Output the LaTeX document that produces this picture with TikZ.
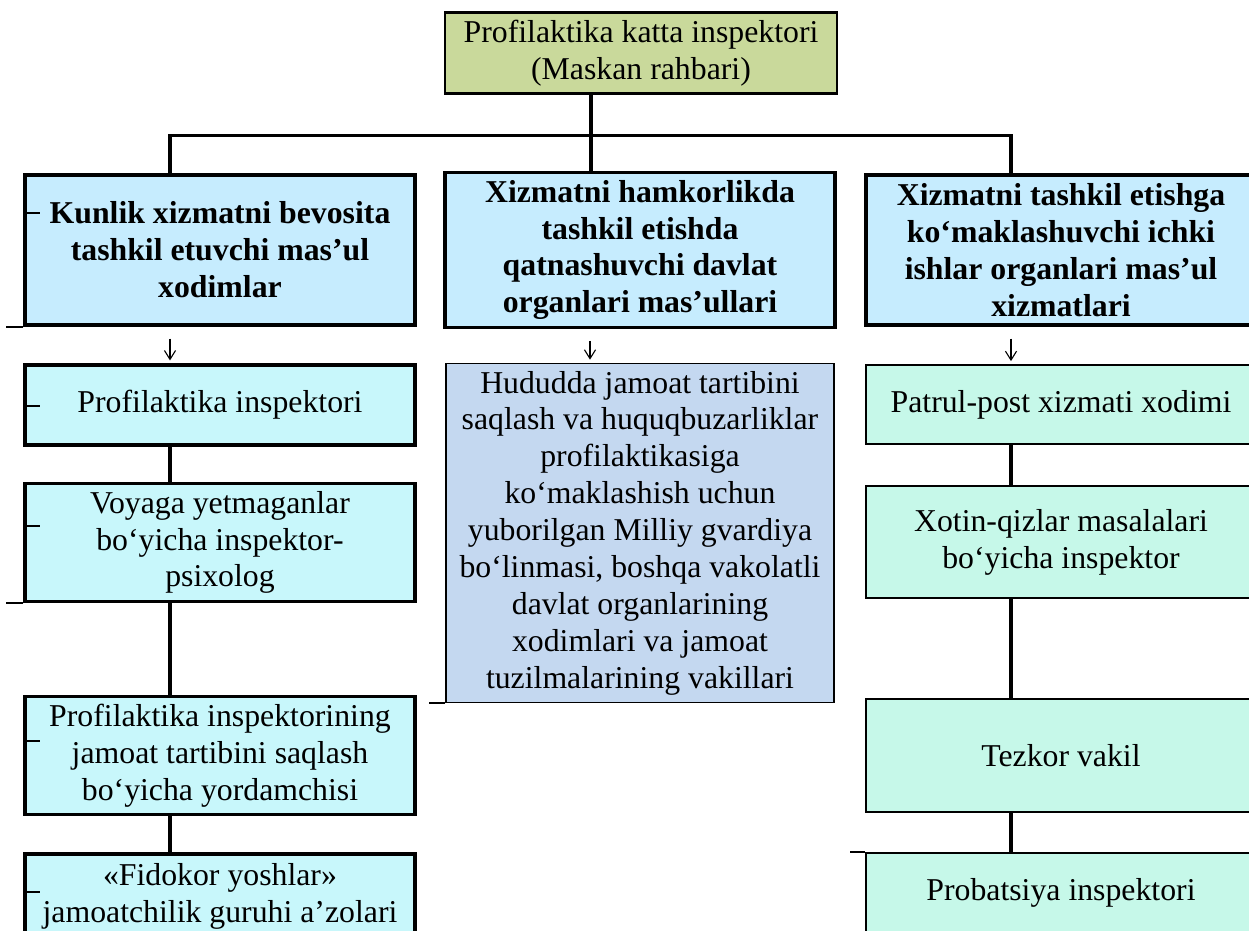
\documentclass[tikz,border=0pt]{standalone}
\usepackage{fontspec}
\setmainfont{Liberation Serif}
\usetikzlibrary{arrows.meta,positioning}
\newdimen\unitpx
\unitpx=0.45pt
\newcommand{\boxfont}{\fontsize{14.3}{16.6}\selectfont}
\definecolor{ChiefGreen}{HTML}{C9D99B}
\definecolor{HeadBlue}{HTML}{C6ECFE}
\definecolor{DutyCyan}{HTML}{C8F7FB}
\definecolor{GuardBlue}{HTML}{C4D8F0}
\definecolor{AidMint}{HTML}{C6F8E9}
\tikzset{
  every node/.style={
    font=\boxfont
  },
  chief/.style={
    shape=rectangle,
    draw=black,
    line width=1pt,
    fill=ChiefGreen,
    minimum width=392\unitpx,
    align=center
  },
  head/.style={
    shape=rectangle,
    draw=black,
    line width=1.4pt,
    fill=HeadBlue,
    minimum width=390\unitpx,
    minimum height=150\unitpx,
    font=\boxfont\bfseries,
    align=center
  },
  duty/.style={
    shape=rectangle,
    draw=black,
    line width=1.4pt,
    fill=DutyCyan,
    minimum width=390\unitpx,
    align=center
  },
  guard/.style={
    shape=rectangle,
    draw=black,
    line width=0.8pt,
    fill=GuardBlue,
    minimum width=388\unitpx,
    align=center
  },
  aid/.style={
    shape=rectangle,
    draw=black,
    line width=0.8pt,
    fill=AidMint,
    minimum width=390\unitpx,
    align=center
  }
}

\begin{document}
\begin{tikzpicture}[x=0.45pt,y=-0.45pt,
    link/.style={line width=1.4pt},
    pointer/.style={
      line width=0.5pt,
      -{Straight Barb[length=4pt,width=5pt]},
      shorten <=12\unitpx,
      shorten >=3\unitpx
    },
    stray/.style={line width=0.9pt}
  ]
  \useasboundingbox (0,0) rectangle (1249,931);

  \node[chief, minimum height=80\unitpx] (chief) at (641,53)
    {Profilaktika katta inspektori\\(Maskan rahbari)};

  \node[head] (h1) at (220,250)
    {Kunlik xizmatni bevosita\\tashkil etuvchi mas’ul\\xodimlar};
  \node[head] (h2) at (640,250)
    {Xizmatni hamkorlikda\\tashkil etishda\\qatnashuvchi davlat\\organlari mas’ullari};
  \node[head] (h3) at (1061,250)
    {Xizmatni tashkil etishga\\ko‘maklashuvchi ichki\\ishlar organlari mas’ul\\xizmatlari};

  % left column
  \node[duty, minimum height=80\unitpx] (c1) at (220,405) {Profilaktika inspektori};
  \node[duty, minimum height=111\unitpx] (c2) at (220,542.5)
    {Voyaga yetmaganlar\\bo‘yicha inspektor-\\psixolog};
  \node[duty, minimum height=113\unitpx] (c3) at (220,755.5)
    {Profilaktika inspektorining\\jamoat tartibini saqlash\\bo‘yicha yordamchisi};
  \node[duty, minimum height=84\unitpx] (c4) at (220,896)
    {«Fidokor yoshlar»\\jamoatchilik guruhi a’zolari};

  % middle column
  \node[guard, minimum height=334\unitpx] (m1) at (640,533)
    {Hududda jamoat tartibini\\saqlash va huquqbuzarliklar\\profilaktikasiga\\ko‘maklashish uchun\\yuborilgan Milliy gvardiya\\bo‘linmasi, boshqa vakolatli\\davlat organlarining\\xodimlari va jamoat\\tuzilmalarining vakillari};

  % right column
  \node[aid, minimum height=79\unitpx] (r1) at (1061,404.5) {Patrul-post xizmati xodimi};
  \node[aid, minimum height=112\unitpx] (r2) at (1061,542)
    {Xotin-qizlar masalalari\\bo‘yicha inspektor};
  \node[aid, minimum height=113\unitpx] (r3) at (1061,755.5) {Tezkor vakil};
  \node[aid, minimum height=80\unitpx] (r4) at (1061,893) {Probatsiya inspektori};

  \draw[link] ([xshift=-50\unitpx]chief.south) -- ++(0,41) coordinate (bus);
  \draw[link] ([xshift=-50\unitpx]h1.north) |- (bus) -| ([xshift=-50\unitpx]h3.north);
  \draw[link] (bus) -- (bus |- h2.north);

  \draw[pointer] ([xshift=-50\unitpx]h1.south) -- ([xshift=-50\unitpx]c1.north);
  \draw[pointer] ([xshift=-50\unitpx]h2.south) -- ([xshift=-50\unitpx]m1.north);
  \draw[pointer] ([xshift=-50\unitpx]h3.south) -- ([xshift=-50\unitpx]r1.north);

  \foreach \a/\b in {c1/c2,c2/c3,c3/c4,r1/r2,r2/r3,r3/r4}
    \draw[link] ([xshift=-50\unitpx]\a.south) -- ([xshift=-50\unitpx]\b.north);

  % stray rule ends
  \foreach \y in {213,406,526,741,892}
    \draw[stray] (25,\y) -- (40,\y);
  \draw[stray] (h1.south west) -- ++(-17,0);
  \draw[stray] (c2.south west) -- ++(-17,0);
  \draw[stray] (m1.south west) -- ++(-16,0);
  \draw[stray] (r4.north west) -- ++(-15,0);
\end{tikzpicture}
\end{document}
